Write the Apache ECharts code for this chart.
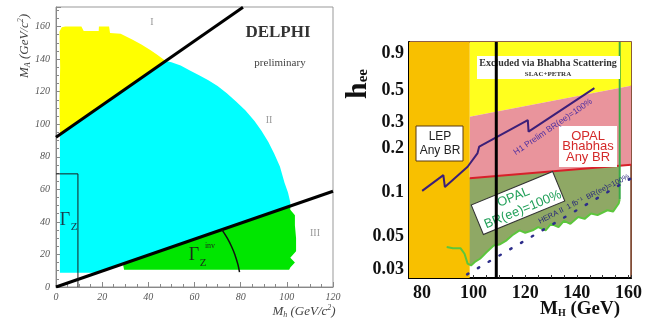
<!DOCTYPE html>
<html><head><meta charset="utf-8">
<script src="https://cdn.jsdelivr.net/npm/echarts@6/dist/echarts.min.js"></script>
<style>html,body{margin:0;padding:0;background:#fff}#c{width:645px;height:320px}</style>
</head><body><div id="c"></div>
<script>
// ---------- Left panel (DELPHI) data ----------
const lpYellowRegion = [[1.7,93.7],[1.5,115],[1.8,135],[1.5,157],[2.5,159.5],[4,160],[11,160],[12,157.3],[18.5,157.3],[18.6,160],[23,160],[23.4,156],[28,155.5],[33,152],[37,149],[41,145.5],[44,142.5],[47.5,138.8]];
const lpCyanRegion = [[1.7,93.7],[47.5,138.8],[50,138],[54,136],[58,133],[62,130],[66,127],[70,123.5],[74,119],[78,114],[82,108.5],[86,102],[89,96],[92,89],[94.5,82],[97,74],[99,64],[100.5,58],[101.5,52],[101.5,49.7],[18,8.8],[1.7,8.8]];
const lpGreenRegion = [[29,14.2],[29.5,10.6],[101,10.6],[101.5,12],[103.5,15],[101.5,18],[104,22],[104,30],[103.5,38],[103.5,44],[101.5,47.4],[101.5,49.7]];
const lpUpperLine = [[0,92],[81,171.8]];
const lpLowerLine = [[0,0],[120,58.8]];
const lpGammaZBox = [[0,69.5],[9.5,69.5],[9.5,0]];
const lpGammaInvArc = [[71.9,35.1],[74.2,30.0],[76.1,24.7],[77.6,19.4],[78.8,13.9],[79.5,9.1]];

// ---------- Right panel (h_ee vs M_H) data ----------
const rpYLabels = [0.03,0.05,0.1,0.2,0.3,0.5,0.9];
const rpXLabels = [80,100,120,140,160];
const rpOrangeRegion = [[75,0.026],[75,1.07],[98.5,1.07],[98.5,0.026]];
const rpYellowRegion = [[98.5,1.07],[161,1.07],[161,0.537],[98.5,0.33]];
const rpPinkRegion = [[98.5,0.33],[161,0.537],[161,0.155],[98.5,0.125]];
const rpRedLine = [[98.5,0.125],[161,0.155]];
const rpGreenCurve = [[89.6,0.0423],[92,0.0415],[95,0.0415],[96.5,0.0381],[97.7,0.0326],[99,0.0317],[100.5,0.0335],[102.5,0.0352],[105,0.039],[107.8,0.0434],[110,0.044],[112.8,0.0471],[115,0.051],[117.8,0.0551],[120,0.053],[122.9,0.0551],[125,0.058],[127.9,0.0551],[130,0.061],[132.9,0.058],[135,0.064],[137.5,0.061],[140.5,0.068],[143,0.066],[145.5,0.0718],[148,0.070],[151.8,0.0756],[154,0.074],[156.2,0.084],[156.6,0.09]];
const rpGreenVertical = [[156.6,0.09],[156.6,1.07]];
const rpOliveTop = [[89.6,0.125],[98.5,0.125],[156.6,0.153]];
const rpH1Line = [[80.1,0.1025],[88.3,0.1315],[88.9,0.109],[97.7,0.150],[101.5,0.185],[102.2,0.206],[121,0.313],[121.3,0.261],[146.8,0.517]];
const rpHeraLine = [[97.5,0.0275],[161,0.125]];
const rpCutLine = [[108.8,0.026],[108.8,1.07]];

const rpOliveRegion = rpOliveTop.concat(rpGreenCurve.slice().reverse());

const SERIF = '"Liberation Serif", "DejaVu Serif", serif';
const SANS = '"Liberation Sans", Arial, sans-serif';

function poly(pts, fill, gi) {
  return {type:'custom', xAxisIndex:gi, yAxisIndex:gi, silent:true, data:pts,
    renderItem:(params, api) => params.dataIndex === 0 ?
      {type:'polygon', shape:{points: pts.map(p => api.coord(p))}, style:{fill:fill}} : null};
}
function line(pts, color, width, gi, extra) {
  return Object.assign({type:'line', xAxisIndex:gi, yAxisIndex:gi, data:pts, showSymbol:false, silent:true,
    animation:false, lineStyle:{color:color, width:width}}, extra || {});
}
function fmtNum(v){ return String(parseFloat(Number(v).toPrecision(6))); }
function txt(x, y, text, font, fill, extra) {
  return Object.assign({type:'text', x:x, y:y, z:100, style:{text:text, font:font, fill:fill,
    align:'center', textAlign:'center', verticalAlign:'middle', textVerticalAlign:'middle'}}, extra || {});
}

const chart = echarts.init(document.getElementById('c'), null, {renderer:'canvas'});
chart.setOption({
  animation:false,
  backgroundColor:'#fff',
  grid:[
    {left:56, top:7, width:277, height:280, show:true, borderColor:'#999', borderWidth:1, backgroundColor:'transparent'},
    {left:409, top:42, width:229, height:236, show:true, borderColor:'#6a2a10', borderWidth:1.5, backgroundColor:'transparent'}
  ],
  xAxis:[
    {type:'value', gridIndex:0, min:0, max:120, interval:20,
      axisLine:{lineStyle:{color:'#888'}}, axisTick:{inside:true, length:5, lineStyle:{color:'#888'}},
      minorTick:{show:true, splitNumber:4, length:3, lineStyle:{color:'#888'}},
      splitLine:{show:false},
      axisLabel:{fontFamily:SERIF, fontStyle:'italic', fontSize:10, color:'#555', margin:5}},
    {type:'value', gridIndex:1, min:75, max:161, interval:5,
      axisLine:{lineStyle:{color:'#000', width:2}}, axisTick:{inside:true, length:3, lineStyle:{color:'#333'}},
      splitLine:{show:false},
      axisLabel:{fontFamily:SERIF, fontWeight:'bold', fontSize:18, color:'#111', margin:6,
        formatter:v => rpXLabels.indexOf(v) >= 0 ? String(v) : ''}}
  ],
  yAxis:[
    {type:'value', gridIndex:0, min:0, max:172, interval:20,
      axisLine:{show:true, lineStyle:{color:'#888'}}, axisTick:{inside:true, length:5, lineStyle:{color:'#888'}},
      minorTick:{show:true, splitNumber:4, length:3, lineStyle:{color:'#888'}},
      splitLine:{show:false},
      axisLabel:{fontFamily:SERIF, fontStyle:'italic', fontSize:10, color:'#555', margin:6, showMaxLabel:false}},
    {type:'log', gridIndex:1, min:0.026, max:1.07, logBase:10,
      axisLine:{show:true, lineStyle:{color:'#000', width:2}},
      axisTick:{show:true, inside:true, length:4, customValues:rpYLabels, lineStyle:{color:'#333'}},
      minorTick:{show:false}, splitLine:{show:false},
      axisLabel:{fontFamily:SERIF, fontWeight:'bold', fontSize:18, color:'#111', margin:5,
        customValues:rpYLabels, formatter:v => fmtNum(v)}}
  ],
  series:[
    poly(lpYellowRegion, '#ffff00', 0),
    poly(lpCyanRegion, '#00ffff', 0),
    poly(lpGreenRegion, '#00e600', 0),
    line(lpUpperLine, '#000', 3, 0),
    line(lpLowerLine, '#000', 3, 0),
    line(lpGammaZBox, '#1a1a1a', 1, 0),
    line(lpGammaInvArc, '#111', 1.5, 0, {smooth:true}),

    poly(rpOliveRegion, '#8fa865', 1),
    poly(rpYellowRegion, '#ffff1e', 1),
    poly(rpPinkRegion, '#e9949c', 1),
    poly(rpOrangeRegion, '#f8c000', 1),
    line(rpRedLine, '#d8202a', 2, 1),
    line(rpGreenCurve, '#5cc63c', 2, 1),
    line(rpGreenVertical, '#3aaa48', 2, 1),
    line(rpHeraLine, '#2d2d8a', 2.5, 1, {lineStyle:{color:'#2d2d8a', width:2.5, type:[1.5,11], cap:'round'}}),
    line(rpH1Line, '#3c1f78', 2, 1),
    line(rpCutLine, '#000', 3, 1, {z:150})
  ],
  graphic:[
    // left panel texts
    {type:'text', x:25, y:46, z:100, rotation:Math.PI/2, style:{text:'{m|M}{s|A}{m| (GeV/c}{p|2}{m|)}', align:'center', textAlign:'center', verticalAlign:'middle', textVerticalAlign:'middle',
      rich:{m:{fontFamily:SERIF, fontStyle:'italic', fontSize:13, fill:'#444'}, s:{fontFamily:SERIF, fontStyle:'italic', fontSize:8, fill:'#444', padding:[6,0,0,0]}, p:{fontFamily:SERIF, fontStyle:'italic', fontSize:8, fill:'#444', padding:[0,0,8,0]}}}},
    {type:'text', x:304, y:312, z:100, style:{text:'{m|M}{s|h}{m| (GeV/c}{p|2}{m|)}', align:'center', textAlign:'center', verticalAlign:'middle', textVerticalAlign:'middle',
      rich:{m:{fontFamily:SERIF, fontStyle:'italic', fontSize:13, fill:'#444'}, s:{fontFamily:SERIF, fontStyle:'italic', fontSize:8, fill:'#444', padding:[6,0,0,0]}, p:{fontFamily:SERIF, fontStyle:'italic', fontSize:8, fill:'#444', padding:[0,0,8,0]}}}},
    txt(278, 33, 'DELPHI', 'bold 17px '+SERIF, '#333'),
    txt(280, 63, 'preliminary', '11px '+SERIF, '#444'),
    txt(152, 22, 'I', '10px '+SERIF, '#999'),
    txt(269, 120, 'II', '10px '+SERIF, '#999'),
    txt(315, 233, 'III', '10px '+SERIF, '#999'),
    txt(65, 220, 'Γ', '18px '+SERIF, '#1a3a4a'),
    txt(74, 227, 'Z', '11px '+SERIF, '#1a3a4a'),
    txt(194, 255, 'Γ', '18px '+SERIF, '#1a2a1a'),
    txt(203, 263, 'Z', '11px '+SERIF, '#1a2a1a'),
    txt(210, 246, 'inv', '8px '+SERIF, '#1a2a1a'),

    // right panel texts
    {type:'text', x:358, y:84, z:100, rotation:Math.PI/2, style:{text:'{h|h}{e|ee}', align:'center', textAlign:'center', verticalAlign:'middle', textVerticalAlign:'middle',
      rich:{h:{fontFamily:SERIF, fontWeight:'bold', fontSize:30, fill:'#111'}, e:{fontFamily:SERIF, fontWeight:'bold', fontSize:15, fill:'#111', padding:[10,0,0,0]}}}},
    {type:'text', x:580, y:309, z:100, style:{text:'{m|M}{s|H}{m| (GeV)}', align:'center', textAlign:'center', verticalAlign:'middle', textVerticalAlign:'middle',
      rich:{m:{fontFamily:SERIF, fontWeight:'bold', fontSize:19, fill:'#111'}, s:{fontFamily:SERIF, fontWeight:'bold', fontSize:10, fill:'#111', padding:[8,0,0,0]}}}},
    {type:'rect', z:100, shape:{x:477, y:56, width:143, height:23}, style:{fill:'#fff'}},
    txt(548, 63.5, 'Excluded via Bhabha Scattering', 'bold 10px '+SERIF, '#333'),
    txt(548, 74, 'SLAC+PETRA', 'bold 7px '+SERIF, '#333'),
    {type:'rect', z:100, shape:{x:416, y:126, width:47, height:35}, style:{fill:'#fff', stroke:'#5a3a10', lineWidth:1}},
    txt(440, 137, 'LEP', '12px '+SANS, '#222'),
    txt(440, 151, 'Any BR', '12px '+SANS, '#222'),
    {type:'rect', z:100, shape:{x:559, y:126, width:58, height:41}, style:{fill:'#fff'}},
    {type:'text', x:588, y:146.5, z:101, style:{text:'OPAL\nBhabhas\nAny BR', font:'13px '+SANS, lineHeight:10.5, fill:'#d42a2a', align:'center', textAlign:'center', verticalAlign:'middle', textVerticalAlign:'middle'}},
    {type:'group', x:518, y:203, rotation:0.39, z:100, children:[
      {type:'rect', z:100, shape:{x:-44, y:-16, width:88, height:32}, style:{fill:'#fff', stroke:'#333', lineWidth:1}},
      {type:'text', z:101, x:-2, y:-7, style:{text:'OPAL', font:'13px '+SANS, fill:'#22a05a', align:'center', textAlign:'center', verticalAlign:'middle', textVerticalAlign:'middle'}},
      {type:'text', z:101, x:2, y:8, style:{text:'BR(ee)=100%', font:'13px '+SANS, fill:'#22a05a', align:'center', textAlign:'center', verticalAlign:'middle', textVerticalAlign:'middle'}}
    ]},
    txt(553, 127, 'H1 Prelim BR(ee)=100%', '8.5px '+SANS, '#5030a0', {rotation:0.60}),
    txt(584, 199, 'HERA II  1 fb⁻¹  BR(ee)=100%', '7.5px '+SANS, '#2a2a7a', {rotation:0.47})
  ]
});
</script></body></html>
